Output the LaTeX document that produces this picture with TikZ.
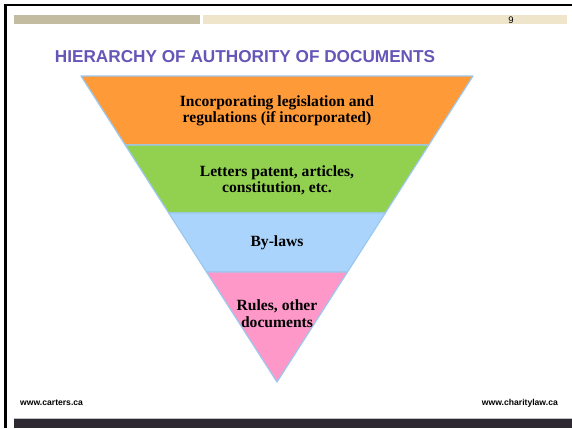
\documentclass[tikz,border=0pt]{standalone}
\usepackage{fontspec}
\setmainfont{Liberation Serif}
\newfontfamily\arialf{Liberation Sans}
\definecolor{tanA}{HTML}{C4BCA0}
\definecolor{tanB}{HTML}{EFE5CA}
\definecolor{titleblue}{HTML}{6656B8}
\definecolor{edgeblue}{HTML}{9DC8EE}
\definecolor{bandorange}{HTML}{FF9A38}
\definecolor{bandgreen}{HTML}{92D050}
\definecolor{bandblue}{HTML}{AAD4FC}
\definecolor{bandpink}{HTML}{FD98C9}
\definecolor{footbar}{HTML}{2D2A33}
\tikzset{
  band/.style={draw=edgeblue, line width=1.2pt, line join=round},
  bandtext/.style={font=\fontsize{15.6}{16.5}\selectfont\bfseries, align=center, text=black, inner sep=0pt},
  foottext/.style={font=\arialf\fontsize{8.6}{10}\selectfont\bfseries, inner sep=0pt}
}
\begin{document}
\begin{tikzpicture}[x=1pt,y=-1pt]
\useasboundingbox (0,0) rectangle (572,428);
\fill[white] (0,0) rectangle (572,428);
% frame
\fill[black] (4,4) rectangle (572,6.5);
\fill[black] (4,4) rectangle (7,428);
% top bars
\fill[tanA] (14,15) rectangle (200,24);
\fill[tanB] (203,15) rectangle (567,24);
\node[font=\arialf\fontsize{9.5}{10}\selectfont, inner sep=0pt] (pagenum) at (511,20) {9};
% title
\node[font=\arialf\fontsize{17.2}{20}\selectfont\bfseries, text=titleblue, inner sep=0pt] (title) at (245,57) {HIERARCHY OF AUTHORITY OF DOCUMENTS};
% triangle coordinates
\coordinate (tl) at (81,76);
\coordinate (tr) at (473,76);
\coordinate (l1) at (125.2,145);
\coordinate (r1) at (428.8,145);
\coordinate (l2) at (168.7,213);
\coordinate (r2) at (385.3,213);
\coordinate (l3) at (206.5,272);
\coordinate (r3) at (347.5,272);
\coordinate (apex) at (277,382);
\filldraw[band, fill=bandorange] (tl) -- (tr) -- (r1) -- (l1) -- cycle;
\filldraw[band, fill=bandgreen] (l1) -- (r1) -- (r2) -- (l2) -- cycle;
\filldraw[band, fill=bandblue] (l2) -- (r2) -- (r3) -- (l3) -- cycle;
\filldraw[band, fill=bandpink] (l3) -- (r3) -- (apex) -- cycle;
% texts
\node[bandtext] (t1) at (277,111) {Incorporating legislation and\\regulations (if incorporated)};
\node[bandtext] (t2) at (277,180.5) {Letters patent, articles,\\constitution, etc.};
\node[bandtext] (t3) at (277,243) {By-laws};
\node[bandtext] (t4) at (277,313.5) {Rules, other\\documents};
% footer
\node[foottext, anchor=west] (fl) at (20,403) {www.carters.ca};
\node[foottext, anchor=east] (fr) at (558,403) {www.charitylaw.ca};
\fill[black!25] (14,417.5) rectangle (572,419);
\fill[footbar] (14,419) rectangle (572,428);
\end{tikzpicture}
\end{document}
